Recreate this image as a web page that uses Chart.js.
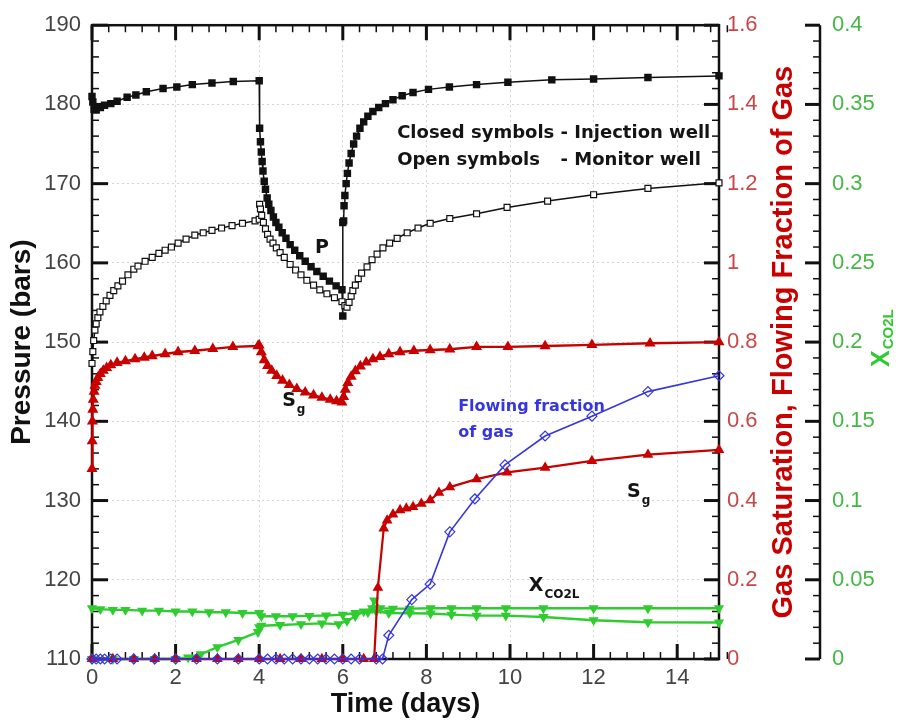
<!DOCTYPE html>
<html>
<head>
<meta charset="utf-8">
<script src="https://cdn.jsdelivr.net/npm/chart.js@4.4.1/dist/chart.umd.min.js"></script>
<style>
  html, body { margin: 0; padding: 0; background: #fff; }
  #wrap { width: 901px; height: 726px; }
</style>
</head>
<body>
<div id="wrap"><canvas id="chart" width="901" height="726"></canvas></div>
<script>
(function () {
  'use strict';

  // pressure at the injection well (bars)
  var injPT = [0, 0.02, 0.05, 0.1, 0.2, 0.3, 0.45, 0.6, 0.84, 1.05, 1.3, 1.7, 2.03, 2.4, 2.87, 3.38, 4.0,
    4.01, 4.03, 4.05, 4.07, 4.09, 4.12, 4.15, 4.19, 4.23, 4.28, 4.34, 4.4, 4.47, 4.55, 4.64, 4.74, 4.85,
    4.97, 5.1, 5.24, 5.38, 5.53, 5.68, 5.84, 5.98, 6.0, 6.0, 6.02, 6.03, 6.05, 6.08, 6.11, 6.15, 6.2,
    6.26, 6.33, 6.41, 6.5, 6.6, 6.72, 6.86, 7.02, 7.2, 7.42, 7.68, 8.05, 8.55, 9.2, 9.95, 11.0, 12.0,
    13.3, 15.0];
  var injP = [181.0, 180.3, 179.4, 179.3, 179.6, 179.9, 180.1, 180.4, 180.9, 181.2, 181.6, 182.0, 182.2,
    182.5, 182.7, 182.9, 183.0,
    177.0, 175.3, 174.0, 172.8, 171.6, 170.3, 169.3, 168.2, 167.4, 166.6, 165.8, 165.1, 164.5, 163.8,
    163.1, 162.3, 161.6, 160.9, 160.2, 159.5, 158.9, 158.3, 157.7, 157.1, 156.6, 153.3, 165.1, 165.3,
    167.2, 168.5, 170.0, 171.3, 172.6, 173.8, 175.0, 176.0, 177.0, 177.8, 178.5, 179.1, 179.6, 180.1,
    180.6, 181.1, 181.5, 181.9, 182.2, 182.5, 182.8, 183.1, 183.2, 183.4, 183.6];

  // pressure at the monitor well (bars)
  var monPT = [0, 0.02, 0.04, 0.07, 0.1, 0.14, 0.19, 0.26, 0.34, 0.43, 0.52, 0.62, 0.73, 0.86, 1.0, 1.1,
    1.27, 1.44, 1.6, 1.75, 1.9, 2.06, 2.25, 2.46, 2.66, 2.87, 3.1, 3.35, 3.6, 3.9, 4.0, 4.01, 4.03, 4.06,
    4.1, 4.15, 4.2, 4.26, 4.33, 4.41, 4.5, 4.6, 4.74, 4.87, 5.0, 5.14, 5.3, 5.45, 5.62, 5.8, 5.98, 6.05,
    6.1, 6.15, 6.2, 6.24, 6.3, 6.37, 6.45, 6.58, 6.7, 6.82, 6.96, 7.12, 7.3, 7.54, 7.8, 8.09, 8.56, 9.2,
    9.93, 10.9, 12.0, 13.3, 15.0];
  var monP = [147.3, 148.8, 150.2, 151.5, 152.3, 153.1, 153.8, 154.5, 155.2, 155.9, 156.5, 157.1, 157.7,
    158.5, 159.2, 159.6, 160.2, 160.7, 161.2, 161.6, 162.0, 162.5, 163.0, 163.5, 163.8, 164.1, 164.4,
    164.7, 165.0, 165.3, 165.5, 167.4, 166.8, 166.0, 165.1, 164.3, 163.6, 163.0, 162.5, 161.9, 161.3,
    160.7, 159.8, 159.1, 158.5, 157.8, 157.2, 156.6, 156.1, 155.6, 155.1, 154.6, 154.4, 155.0, 155.8,
    156.5, 157.2, 158.0, 158.7, 159.5, 160.4, 161.1, 161.9, 162.5, 163.1, 163.8, 164.4, 165.0, 165.6,
    166.2, 167.0, 167.8, 168.6, 169.4, 170.1];

  // gas saturation, injection well
  var sgInjT = [0, 0.005, 0.01, 0.02, 0.03, 0.05, 0.07, 0.1, 0.14, 0.2, 0.27, 0.35, 0.45, 0.6, 0.8, 1.03,
    1.25, 1.44, 1.75, 2.06, 2.46, 2.89, 3.37, 3.97, 4.0, 4.05, 4.12, 4.2, 4.3, 4.42, 4.56, 4.72, 4.9, 5.1,
    5.3, 5.5, 5.7, 5.85, 5.98, 6.02, 6.06, 6.12, 6.2, 6.3, 6.42, 6.56, 6.72, 6.89, 7.1, 7.37, 7.7, 8.09,
    8.56, 9.2, 9.95, 10.84, 11.96, 13.35, 15.0];
  var sgInj = [0.48, 0.55, 0.6, 0.63, 0.655, 0.675, 0.69, 0.7, 0.71, 0.72, 0.728, 0.735, 0.742, 0.748,
    0.752, 0.757, 0.761, 0.765, 0.77, 0.775, 0.778, 0.783, 0.788, 0.79, 0.792, 0.775, 0.755, 0.74, 0.728,
    0.715, 0.703, 0.692, 0.682, 0.673, 0.666, 0.66, 0.655, 0.651, 0.648, 0.662, 0.68, 0.697, 0.713, 0.727,
    0.739, 0.749, 0.757, 0.763, 0.77, 0.775, 0.778, 0.78, 0.782, 0.788, 0.788, 0.79, 0.793, 0.797, 0.8];

  // gas saturation, monitor well
  var sgMonT = [0, 0.5, 1, 1.5, 2, 2.5, 3, 3.5, 4, 4.5, 5, 5.5, 6, 6.5, 6.75, 6.84, 6.98, 7.06, 7.2, 7.37,
    7.52, 7.68, 7.88, 8.09, 8.3, 8.56, 9.2, 9.93, 10.84, 11.96, 13.3, 15.0];
  var sgMon = [0, 0, 0, 0, 0, 0, 0, 0, 0, 0, 0, 0, 0, 0, 0, 0.18, 0.33, 0.35, 0.365, 0.376, 0.38, 0.384,
    0.392, 0.401, 0.42, 0.434, 0.454, 0.471, 0.483, 0.5, 0.516, 0.528];

  // flowing fraction of gas, monitor well
  var ffT = [0, 0.1, 0.2, 0.3, 0.45, 0.6, 1, 1.5, 2, 2.5, 3, 3.5, 4, 4.2, 4.4, 4.6, 4.8, 5, 5.2, 5.4, 5.6,
    5.8, 6, 6.2, 6.4, 6.8, 6.95, 7.1, 7.65, 8.09, 8.56, 9.16, 9.88, 10.84, 11.96, 13.3, 15.0];
  var ff = [0, 0, 0, 0, 0, 0, 0, 0, 0, 0, 0, 0, 0, 0, 0, 0, 0, 0, 0, 0, 0, 0, 0, 0, 0, 0, 0, 0.06, 0.15,
    0.189, 0.321, 0.404, 0.49, 0.563, 0.613, 0.675, 0.715];

  // dissolved CO2 mass fraction, injection well
  var xInjT = [0, 0.2, 0.5, 0.8, 1.2, 1.6, 2.0, 2.4, 2.8, 3.2, 3.6, 4.0, 4.05, 4.4, 4.8, 5.2, 5.6, 6.0,
    6.3, 6.6, 6.8, 7.1, 7.6, 8.1, 8.6, 9.2, 9.9, 10.8, 12.0, 13.3, 15.0];
  var xInj = [0.032, 0.0315, 0.031, 0.031, 0.0305, 0.0305, 0.030, 0.030, 0.0295, 0.0295, 0.029, 0.029,
    0.027, 0.027, 0.027, 0.0272, 0.0275, 0.028, 0.029, 0.0295, 0.03, 0.029, 0.0289, 0.0287, 0.028,
    0.0274, 0.0274, 0.0265, 0.0245, 0.0232, 0.023];

  // dissolved CO2 mass fraction, monitor well
  var xMonT = [0, 0.5, 1, 1.5, 2, 2.3, 2.6, 3.0, 3.5, 3.97, 4.0, 4.05, 4.5, 5.0, 5.5, 5.9, 6.1, 6.3, 6.5,
    6.7, 6.75, 6.9, 7.2, 7.6, 8.1, 8.6, 9.2, 9.9, 10.8, 12, 13.3, 15];
  var xMon = [0, 0, 0, 0, 0, 0.001, 0.003, 0.0075, 0.012, 0.017, 0.02, 0.021, 0.0215, 0.022, 0.0225,
    0.022, 0.024, 0.027, 0.03, 0.032, 0.037, 0.032, 0.0318, 0.0318, 0.032, 0.032, 0.032, 0.032, 0.032,
    0.032, 0.032, 0.032];

  // ticks
  var timeTicks = [0, 2, 4, 6, 8, 10, 12, 14];
  var presTicks = [110, 120, 130, 140, 150, 160, 170, 180, 190];
  var sgTicks = [0, 0.2, 0.4, 0.6, 0.8, 1, 1.2, 1.4, 1.6];
  var sgTickLabels = ['0', '0.2', '0.4', '0.6', '0.8', '1', '1.2', '1.4', '1.6'];
  var xcoTicks = [0, 0.05, 0.1, 0.15, 0.2, 0.25, 0.3, 0.35, 0.4];
  var xcoTickLabels = ['0', '0.05', '0.1', '0.15', '0.2', '0.25', '0.3', '0.35', '0.4'];

  function pts(ts, vs) {
    return ts.map(function (t, i) { return { x: t, y: vs[i] }; });
  }

  function setTicks(vals) {
    return function (scale) {
      scale.ticks = vals.map(function (v) { return { value: v }; });
    };
  }

  var RED = '#c80000';
  var BLUE = '#3636e0';
  var GREEN = '#2fcc2f';
  var SANS = '"Liberation Sans", Arial, sans-serif';
  var TICKFONT = { family: SANS, size: 22 };

  // frame, inward ticks and outer green axis
  var frameTicks = {
    id: 'frameTicks',
    beforeDatasetsDraw: function (chart) {
      var ctx = chart.ctx, a = chart.chartArea;
      var sx = chart.scales.x, sp = chart.scales.y, sr = chart.scales.ySg, sg = chart.scales.yX;

      function tickSet(scale, min, max, step, majors, draw) {
        var n = Math.round((max - min) / step);
        for (var i = 0; i <= n; i++) {
          var v = min + i * step;
          var isMajor = majors.some(function (m) { return Math.abs(m - v) < step / 10; });
          draw(scale.getPixelForValue(v), isMajor);
        }
      }

      ctx.save();
      ctx.strokeStyle = '#111';
      ctx.lineCap = 'butt';

      // time ticks top & bottom
      tickSet(sx, 0, 15, 0.4, timeTicks, function (p, major) {
        var len = major ? 15 : 7;
        ctx.lineWidth = major ? 3 : 1.5;
        ctx.beginPath();
        ctx.moveTo(p, a.bottom); ctx.lineTo(p, a.bottom - len);
        ctx.moveTo(p, a.top); ctx.lineTo(p, a.top + len);
        ctx.stroke();
      });
      // pressure ticks on left
      tickSet(sp, 110, 190, 2, presTicks, function (p, major) {
        var len = major ? 16 : 7;
        ctx.lineWidth = major ? 3 : 1.5;
        ctx.beginPath();
        ctx.moveTo(a.left, p); ctx.lineTo(a.left + len, p);
        ctx.stroke();
      });
      // saturation ticks on right frame
      tickSet(sr, 0, 1.6, 0.04, sgTicks, function (p, major) {
        var len = major ? 15 : 7;
        ctx.lineWidth = major ? 3 : 1.5;
        ctx.beginPath();
        ctx.moveTo(a.right, p); ctx.lineTo(a.right - len, p);
        ctx.stroke();
      });
      // green axis
      var gx = sg.left;
      tickSet(sg, 0, 0.4, 0.01, xcoTicks, function (p, major) {
        var len = major ? 15 : 7;
        ctx.lineWidth = major ? 3 : 1.5;
        ctx.beginPath();
        ctx.moveTo(gx, p); ctx.lineTo(gx - len, p);
        ctx.stroke();
      });
      ctx.lineWidth = 2.5;
      ctx.beginPath();
      ctx.moveTo(gx, sg.getPixelForValue(0));
      ctx.lineTo(gx, sg.getPixelForValue(0.4));
      ctx.stroke();
      ctx.strokeRect(a.left, a.top, a.right - a.left, a.bottom - a.top);
      ctx.restore();
    },
    afterDraw: function (chart) {
      var ctx = chart.ctx, a = chart.chartArea;
      var sx = chart.scales.x, sp = chart.scales.y;
      ctx.save();

      // right axis titles
      ctx.save();
      ctx.translate(784, (a.top + a.bottom) / 2);
      ctx.rotate(-Math.PI / 2);
      ctx.fillStyle = RED;
      ctx.font = 'bold 29px ' + SANS;
      ctx.textAlign = 'center';
      ctx.textBaseline = 'middle';
      ctx.fillText('Gas Saturation, Flowing Fraction of Gas', 0, 0);
      ctx.restore();

      ctx.save();
      ctx.translate(889, 367);
      ctx.rotate(-Math.PI / 2);
      ctx.fillStyle = GREEN;
      ctx.textAlign = 'left';
      ctx.textBaseline = 'alphabetic';
      ctx.font = 'bold 25px ' + SANS;
      ctx.fillText('X', 0, 0);
      var w = ctx.measureText('X').width;
      ctx.font = 'bold 15px ' + SANS;
      ctx.fillText('CO2L', w + 1, 4);
      ctx.restore();

      // annotations
      ctx.fillStyle = '#141414';
      ctx.textBaseline = 'middle';
      ctx.textAlign = 'left';
      ctx.font = 'bold 18px "DejaVu Sans", sans-serif';
      var tx = sx.getPixelForValue(7.3);
      ctx.fillText('Closed symbols - Injection well', tx, sp.getPixelForValue(176.4));
      ctx.fillText('Open symbols', tx, sp.getPixelForValue(173.0));
      var dashX = tx + ctx.measureText('Closed symbols ').width;
      ctx.fillText('- Monitor well', dashX, sp.getPixelForValue(173.0));

      ctx.font = 'bold 19px "DejaVu Sans", sans-serif';
      ctx.textAlign = 'center';
      ctx.fillText('P', sx.getPixelForValue(5.5), sp.getPixelForValue(161.9));

      function sub(main, s, t, p) {
        ctx.textAlign = 'left';
        ctx.textBaseline = 'alphabetic';
        var x0 = sx.getPixelForValue(t), y0 = sp.getPixelForValue(p);
        ctx.font = 'bold 19px "DejaVu Sans", sans-serif';
        ctx.fillText(main, x0, y0);
        var mw = ctx.measureText(main).width;
        ctx.font = 'bold 12px "DejaVu Sans", sans-serif';
        ctx.fillText(s, x0 + mw + 1, y0 + 7);
      }
      sub('S', 'g', 4.55, 141.9);
      sub('S', 'g', 12.8, 130.4);
      sub('X', 'CO2L', 10.45, 118.6);

      ctx.fillStyle = BLUE;
      ctx.font = 'bold 16px "DejaVu Sans", sans-serif';
      ctx.textAlign = 'left';
      ctx.textBaseline = 'middle';
      ctx.fillText('Flowing fraction', sx.getPixelForValue(8.76), sp.getPixelForValue(141.8));
      ctx.fillText('of gas', sx.getPixelForValue(8.76), sp.getPixelForValue(138.6));
      ctx.restore();
    }
  };

  var gridCommon = {
    color: '#d4d4d4',
    lineWidth: 1,
    drawTicks: false,
    tickLength: 0
  };

  new Chart(document.getElementById('chart'), {
    type: 'line',
    data: {
      datasets: [
        {
          label: 'Flowing fraction of gas',
          data: pts(ffT, ff),
          yAxisID: 'ySg',
          borderColor: BLUE,
          borderWidth: 1.6,
          pointStyle: 'rectRot',
          pointRadius: 5,
          pointBackgroundColor: 'rgba(255,255,255,0)',
          pointBorderColor: BLUE,
          pointBorderWidth: 1.2,
          order: 0
        },
        {
          label: 'Sg monitor',
          data: pts(sgMonT, sgMon),
          yAxisID: 'ySg',
          borderColor: RED,
          borderWidth: 2.2,
          pointStyle: 'triangle',
          pointRadius: 4,
          pointBackgroundColor: RED,
          pointBorderColor: RED,
          order: 1
        },
        {
          label: 'XCO2L injection',
          data: pts(xInjT, xInj),
          yAxisID: 'yX',
          borderColor: GREEN,
          borderWidth: 2.4,
          pointStyle: 'triangle',
          rotation: 180,
          pointRadius: 3.5,
          pointBackgroundColor: GREEN,
          pointBorderColor: GREEN,
          order: 2
        },
        {
          label: 'XCO2L monitor',
          data: pts(xMonT, xMon),
          yAxisID: 'yX',
          borderColor: GREEN,
          borderWidth: 2.4,
          pointStyle: 'triangle',
          rotation: 180,
          pointRadius: 3.5,
          pointBackgroundColor: GREEN,
          pointBorderColor: GREEN,
          order: 3
        },
        {
          label: 'Sg injection',
          data: pts(sgInjT, sgInj),
          yAxisID: 'ySg',
          borderColor: RED,
          borderWidth: 2.4,
          pointStyle: 'triangle',
          pointRadius: 4,
          pointBackgroundColor: RED,
          pointBorderColor: RED,
          order: 4
        },
        {
          label: 'P monitor',
          data: pts(monPT, monP),
          yAxisID: 'y',
          borderColor: '#111',
          borderWidth: 1.5,
          pointStyle: 'rect',
          pointRadius: 4.2,
          pointBackgroundColor: '#fff',
          pointBorderColor: '#111',
          pointBorderWidth: 1.2,
          order: 5
        },
        {
          label: 'P injection',
          data: pts(injPT, injP),
          yAxisID: 'y',
          borderColor: '#111',
          borderWidth: 1.5,
          pointStyle: 'rect',
          pointRadius: 4.2,
          pointBackgroundColor: '#111',
          pointBorderColor: '#111',
          order: 6
        }
      ]
    },
    options: {
      responsive: false,
      animation: false,
      events: [],
      clip: false,
      layout: { padding: { top: 17, left: 0, right: 0, bottom: 0 } },
      plugins: {
        legend: { display: false },
        tooltip: { enabled: false }
      },
      elements: {
        line: { tension: 0 }
      },
      scales: {
        x: {
          type: 'linear',
          position: 'bottom',
          min: 0,
          max: 15,
          afterBuildTicks: setTicks(timeTicks),
          afterFit: function (s) { s.height = 67; },
          grid: Object.assign({}, gridCommon),
          border: { display: false, dash: [2, 3] },
          ticks: { font: TICKFONT, color: '#444', padding: 6, maxRotation: 0 },
          title: {
            display: true,
            text: 'Time (days)',
            color: '#111',
            font: { family: SANS, size: 27, weight: 'bold' },
            padding: { top: 0, bottom: 5 }
          }
        },
        y: {
          type: 'linear',
          position: 'left',
          min: 110,
          max: 190,
          afterBuildTicks: setTicks(presTicks),
          afterFit: function (s) { s.width = 92; },
          grid: Object.assign({}, gridCommon),
          border: { display: false, dash: [2, 3] },
          ticks: { font: TICKFONT, color: '#444', padding: 11 },
          title: {
            display: true,
            text: 'Pressure (bars)',
            color: '#111',
            font: { family: SANS, size: 28, weight: 'bold' },
            padding: { top: 5, bottom: 0 }
          }
        },
        ySg: {
          type: 'linear',
          position: 'right',
          weight: 1,
          min: 0,
          max: 1.6,
          afterBuildTicks: setTicks(sgTicks),
          afterFit: function (s) { s.width = 101; },
          grid: { display: false, drawTicks: false, tickLength: 0 },
          border: { display: false },
          ticks: {
            font: TICKFONT,
            color: '#c84848',
            padding: 8,
            callback: function (v, i) { return sgTickLabels[i]; }
          }
        },
        yX: {
          type: 'linear',
          position: 'right',
          weight: 2,
          min: 0,
          max: 0.4,
          afterBuildTicks: setTicks(xcoTicks),
          afterFit: function (s) { s.width = 81; },
          grid: { display: false, drawTicks: false, tickLength: 0 },
          border: { display: false },
          ticks: {
            font: TICKFONT,
            color: '#44b844',
            padding: 12,
            callback: function (v, i) { return xcoTickLabels[i]; }
          }
        }
      }
    },
    plugins: [frameTicks]
  });
})();
</script>
</body>
</html>
